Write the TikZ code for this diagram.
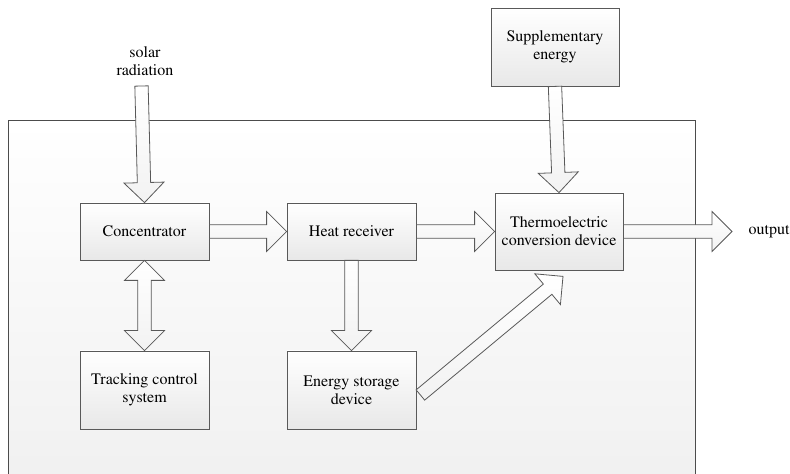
\documentclass[tikz,border=0pt]{standalone}
\usepackage[T1]{fontenc}
\renewcommand{\rmdefault}{ptm}
\usepackage{tikz}
\usetikzlibrary{calc,shadows}
\newcommand{\boxfont}{\rmfamily\fontsize{12pt}{13.5pt}\selectfont}
% hollow block arrow, tail #1, tip #2
\newcommand{\fatarrow}[2]{%
  \coordinate (hb) at ($(#2)!15pt!(#1)$);
  \draw[fatarr] ($(#1)!5pt!90:(#2)$) -- ($(hb)!5pt!90:(#2)$) -- ($(hb)!15pt!90:(#2)$)
    -- (#2) -- ($(hb)!15pt!-90:(#2)$) -- ($(hb)!5pt!-90:(#2)$)
    -- ($(#1)!5pt!-90:(#2)$) -- cycle;}
% same, with a head at both ends
\newcommand{\fatboth}[2]{%
  \coordinate (ha) at ($(#1)!15pt!(#2)$);
  \coordinate (hb) at ($(#2)!15pt!(#1)$);
  \draw[fatarr] (#1) -- ($(ha)!15pt!90:(#2)$) -- ($(ha)!5pt!90:(#2)$)
    -- ($(hb)!5pt!90:(#2)$) -- ($(hb)!15pt!90:(#2)$) -- (#2)
    -- ($(hb)!15pt!-90:(#2)$) -- ($(hb)!5pt!-90:(#2)$)
    -- ($(ha)!5pt!-90:(#2)$) -- ($(ha)!15pt!-90:(#2)$) -- cycle;}

\begin{document}
\begin{tikzpicture}[
  x=0.75pt, y=-0.75pt,
  every node/.style={font=\boxfont},
  frame/.style ={draw=black!70, line width=0.6pt, top color=white, bottom color=black!6},
  block/.style ={draw=black!65, line width=0.6pt, top color=white, bottom color=black!9,
                 minimum width=96.75pt, minimum height=42.75pt, align=center,
                 drop shadow={shadow xshift=0.7pt, shadow yshift=-0.7pt, fill=black!35, opacity=0.6}},
  lbl/.style   ={align=center},
  fatarr/.style={draw=black!65, line width=0.6pt, line join=miter,
                 top color=white, bottom color=black!5}]

\clip (0,0) rectangle (790,474);
\draw[frame] (8,120) rectangle (695,500);

\node[block] (conc) at (144.5,231.5) {Concentrator};
\node[block] (heat) at (351.5,231.5) {Heat receiver};
\node[block, minimum width=96pt, minimum height=57.75pt] (thermo) at (559,231.5)
     {Thermoelectric\\conversion device};
\node[block, minimum width=96pt, minimum height=58.5pt] (supp) at (555,47)
     {Supplementary\\energy};
\node[block, minimum height=58.5pt] (track) at (144.5,390) {Tracking control\\system};
\node[block, minimum height=58.5pt] (store) at (351.5,390) {Energy storage\\device};

\node[lbl] (sun) at (145,61) {solar\\radiation};
\node[lbl, anchor=west] (out) at (744,232) {output};

% free ends
\coordinate (sunin) at (141.5,86);
\coordinate (outtip) at (732,231.5);
\coordinate (stout) at ($(store.east)+(4,5)$);
\coordinate (thin) at ($(thermo.south)+(4,6)$);

\fatarrow{sunin}{conc.north}
\fatarrow{supp.south}{thermo.north}
\fatarrow{conc.east}{heat.west}
\fatarrow{heat.east}{thermo.west}
\fatarrow{thermo.east}{outtip}
\fatarrow{heat.south}{store.north}
\fatarrow{stout}{thin}
\fatboth{conc.south}{track.north}

\end{tikzpicture}
\end{document}
